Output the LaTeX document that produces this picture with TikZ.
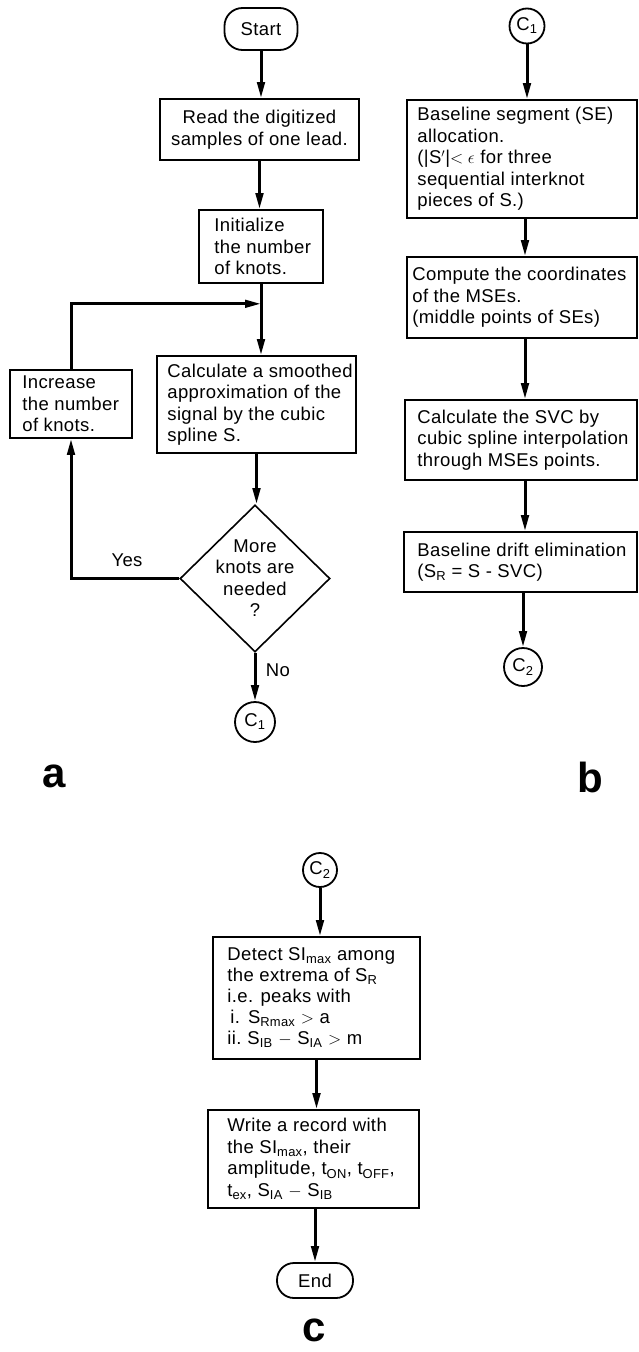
\documentclass[tikz,border=0pt]{standalone}
\usepackage{fontspec}
\setmainfont{Liberation Sans}[LetterSpace=2.0]
\newfontfamily\lblfont{Liberation Sans}
\usetikzlibrary{arrows.meta,shapes.geometric}
\newcommand\bxf{\fontsize{18.5}{21.5}\selectfont}
\begin{document}
\begin{tikzpicture}[x=1pt,y=-1pt,
  box/.style={draw, line width=1.6pt, inner sep=0},
  txt/.style={anchor=west, align=left, inner sep=0, font=\bxf},
  conn/.style={line width=3pt, -{Triangle[length=16pt,width=7.5pt]}},
  term/.style={draw, line width=1.8pt, rounded corners=18pt, inner sep=0, font=\bxf},
  circ/.style={draw, circle, line width=1.8pt, inner sep=0, font=\bxf},
  lab/.style={font=\bxf, inner sep=0},
  panel/.style={font=\lblfont\bfseries\fontsize{42}{42}\selectfont, anchor=base, inner sep=0}
]
\useasboundingbox (0,0) rectangle (639,1352);

% ---------- panel a ----------
\node[term, minimum width=73, minimum height=42] (start) at (261,29) {Start};
\node[box, minimum width=199, minimum height=61, align=center, font=\bxf] (read) at (259.5,129.5) {Read the digitized\\samples of one lead.};
\node[box, minimum width=124, minimum height=73,
      label={[txt,xshift=16]west:{Initialize\\the number\\of knots.}}] (init) at (261,246.5) {};
\node[box, minimum width=199, minimum height=97,
      label={[txt,xshift=11]west:{Calculate a smoothed\\approximation of the\\signal by the cubic\\spline S.}}] (calc) at (256.5,404.5) {};
\node[box, minimum width=122, minimum height=68,
      label={[txt,xshift=13]west:{Increase\\the number\\of knots.}}] (inc) at (71,404) {};
\node[diamond, draw, line width=1.6pt, minimum width=150, minimum height=147, inner sep=0] (dec) at (255,578.5) {};
\node[lab, align=center] (dectxt) at (255,578) {More\\knots are\\needed\\?};
\node[circ, minimum size=40] (c1a) at (255,722) {C\textsubscript{1}};
\node[lab] (yes) at (127,560) {Yes};
\node[lab] (no) at (278,670) {No};
\node[panel] (la) at (54,787) {a};

\path (init.south) ++(0,20) coordinate (join);
\draw[conn] (start.south) -- (start.south |- read.north);
\draw[conn] (read.south) -- (read.south |- init.north);
\draw[conn] (init.south) -- (init.south |- calc.north);
\draw[conn] (inc.north) |- (join);
\draw[conn] (calc.south) -- (calc.south |- dec.north);
\draw[conn] (dec.west) -| (inc.south);
\draw[conn] (dec.south) -- (c1a.north);

% ---------- panel b ----------
\node[circ, minimum size=35] (c1b) at (527,26) {C\textsubscript{1}};
\node[box, minimum width=230, minimum height=118,
      label={[txt,xshift=11]west:{Baseline segment (SE)\\allocation.\\(|S$'$|$<\epsilon$ for three\\sequential interknot\\pieces of S.)}}] (seg) at (522,159) {};
\node[box, minimum width=230, minimum height=81,
      label={[txt,xshift=6]west:{Compute the coordinates\\of the MSEs.\\(middle points of SEs)}}] (comp) at (522,297.5) {};
\node[box, minimum width=232, minimum height=80,
      label={[txt,xshift=13]west:{Calculate the SVC by\\cubic spline interpolation\\through MSEs points.}}] (svc) at (521,440) {};
\node[box, minimum width=233, minimum height=60,
      label={[txt,xshift=14]west:{Baseline drift elimination\\(S\textsubscript{R} = S - SVC)}}] (drift) at (520.5,562) {};
\node[circ, minimum size=38] (c2b) at (523,667) {C\textsubscript{2}};
\node[panel] (lb) at (590,792) {b};

\coordinate (xb) at (525,0);
\draw[conn] (c1b.south) -- (c1b.south |- seg.north);
\draw[conn] (seg.south -| xb) -- (comp.north -| xb);
\draw[conn] (comp.south -| xb) -- (svc.north -| xb);
\draw[conn] (svc.south -| xb) -- (drift.north -| xb);
\draw[conn] (drift.south -| c2b) -- (c2b.north);

% ---------- panel c ----------
\node[circ, minimum size=34] (c2c) at (320,870) {C\textsubscript{2}};
\node[box, minimum width=207, minimum height=122,
      label={[txt,xshift=15,font=\fontsize{18.5}{21}\selectfont]west:{Detect SI\textsubscript{max} among\\the extrema of S\textsubscript{R}\\i.e. peaks with\\\hspace*{3pt}i.\hspace{8pt}S\textsubscript{Rmax} $>$ a\\ii.\hspace{6pt}S\textsubscript{IB} $-$ S\textsubscript{IA} $>$ m}}] (det) at (316.5,998) {};
\node[box, minimum width=211, minimum height=98,
      label={[txt,xshift=20]west:{Write a record with\\the SI\textsubscript{max}, their\\amplitude, t\textsubscript{ON}, t\textsubscript{OFF},\\t\textsubscript{ex}, S\textsubscript{IA} $-$ S\textsubscript{IB}}}] (rec) at (313.5,1159) {};
\node[term, minimum width=76, minimum height=35, rounded corners=17pt] (end) at (315,1280.5) {End};
\node[panel] (lc) at (314,1341) {c};

\draw[conn] (c2c.south) -- (c2c.south |- det.north);
\draw[conn] (det.south) -- (det.south |- rec.north);
\draw[conn] (rec.south -| end) -- (end.north);
\end{tikzpicture}
\end{document}
